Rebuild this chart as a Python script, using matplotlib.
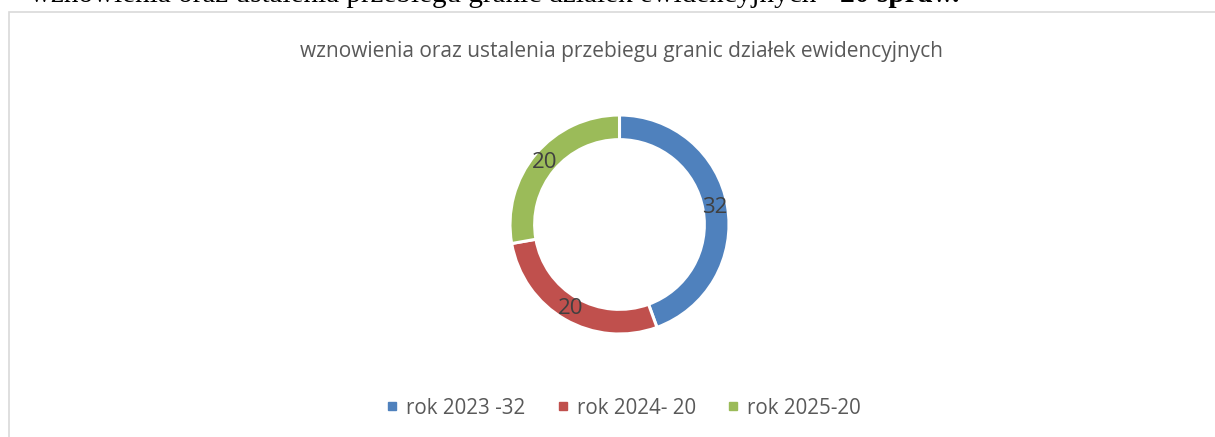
import matplotlib
matplotlib.use("Agg")
import matplotlib.pyplot as plt
from matplotlib.lines import Line2D
from matplotlib.patches import Rectangle
import numpy as np

# ---- data ----
categories = ["rok 2023 -32", "rok 2024- 20", "rok 2025-20"]
values = [32, 20, 20]
label_texts = ["32", "20", "20"]
colors = ["#4f81bd", "#c0504d", "#9bbb59"]
title = "wznowienia oraz ustalenia przebiegu granic działek ewidencyjnych"
top_text_normal = "wznowienia oraz ustalenia przebiegu granic działek ewidencyjnych - "
top_text_bold = "20 spraw."

W, H = 1215, 437
fig = plt.figure(figsize=(W / 100, H / 100), dpi=100)
fig.patch.set_facecolor("white")

def px(x, y):
    return x / W, 1 - y / H

# chart frame (extends beyond right/bottom)
fig.patches.append(Rectangle(px(8.5, 470), (1250 - 8.5) / W, (470 - 12) / H,
                             transform=fig.transFigure, fill=False,
                             edgecolor="#d9d9d9", linewidth=1.2))

# clipped document text at the very top
base_y = 1.5
t1 = fig.text(*px(30, base_y), top_text_normal, fontsize=21.0, family="Liberation Serif",
              color="black", va="baseline", ha="left")
fig.canvas.draw()
r = fig.canvas.get_renderer()
bb = t1.get_window_extent(r)
fig.text(bb.x1 / W, 1 - base_y / H, top_text_bold, fontsize=21.2, family="Liberation Serif",
         weight="bold", color="black", va="baseline", ha="left")

# chart title
fig.text(*px(621, 51), title, fontsize=15.0, family="Open Sans", color="#595959",
         ha="center", va="center")

# donut
cx, cy, R = 619.5, 224.5, 109.5
ax = fig.add_axes([(cx - R) / W, (H - cy - R) / H, 2 * R / W, 2 * R / H])
width = 0.225
wedges, _ = ax.pie(values, colors=colors, startangle=90, counterclock=False,
                   radius=1, wedgeprops=dict(width=width, edgecolor="white", linewidth=2.2))
total = sum(values)
start = 90.0
for v, t in zip(values, label_texts):
    ang = np.deg2rad(start - v / total * 360 / 2)
    rr = 1 - width / 2
    ax.text(rr * np.cos(ang), rr * np.sin(ang), t, ha="center", va="center",
            fontsize=16, family="Open Sans", color="#404040")
    start -= v / total * 360
ax.set_xlim(-1, 1)
ax.set_ylim(-1, 1)
ax.set_aspect("equal")
ax.axis("off")

# legend
handles = [Line2D([], [], marker="s", linestyle="none", markersize=6,
                  markerfacecolor=c, markeredgecolor=c) for c in colors]
fig.legend(handles, categories, loc="center", bbox_to_anchor=px(624, 408), ncol=3,
           frameon=False, prop=dict(family="Open Sans", size=14.8),
           labelcolor="#595959", handlelength=0.5, handletextpad=0.45,
           columnspacing=1.55, borderpad=0)

fig.savefig("out.png", dpi=100, facecolor="white")
